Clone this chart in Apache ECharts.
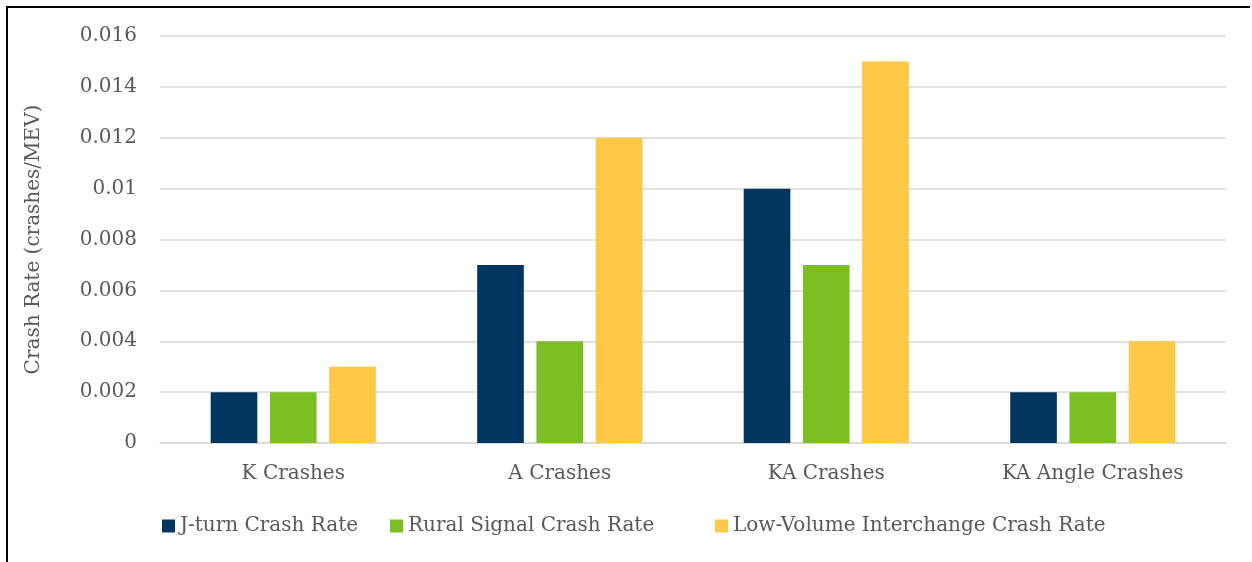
<!DOCTYPE html>
<html>
<head>
<meta charset="utf-8">
<script src="https://cdn.jsdelivr.net/npm/echarts@6/dist/echarts.min.js"></script>
<style>
  html, body { margin: 0; padding: 0; background: #fff; }
  #frame {
    position: absolute; left: 6px; top: 6px; width: 1242px; height: 556px;
    border-left: 2px solid #000; border-top: 2px solid #000;
  }
  #chart { position: absolute; left: 0; top: 0; width: 1252px; height: 562px; }
</style>
</head>
<body>
<div id="frame"></div>
<div id="chart"></div>
<script>
const categories = ['K Crashes', 'A Crashes', 'KA Crashes', 'KA Angle Crashes'];
const seriesNames = ['J-turn Crash Rate', 'Rural Signal Crash Rate', 'Low-Volume Interchange Crash Rate'];
const jturnRate = [0.002, 0.007, 0.01, 0.002];
const ruralSignalRate = [0.002, 0.004, 0.007, 0.002];
const interchangeRate = [0.003, 0.012, 0.015, 0.004];
const colors = ['#003660', '#7BBF22', '#FFC845'];

const font = 'DejaVu Serif';
const textColor = '#595959';

const chart = echarts.init(document.getElementById('chart'));

// one legend per series so each item sits where Excel put it
const legendLefts = [157, 385, 710];
const legends = seriesNames.map((name, i) => ({
  data: [name],
  left: legendLefts[i],
  top: 511,
  itemWidth: 13,
  itemHeight: 13,
  itemGap: 0,
  icon: 'rect',
  textStyle: { fontFamily: font, fontSize: 20, color: textColor },
}));

chart.setOption({
  animation: false,
  color: colors,
  legend: legends,
  grid: { left: 160, right: 26, top: 36, bottom: 119 },
  xAxis: {
    type: 'category',
    data: categories,
    axisLine: { lineStyle: { color: '#d9d9d9', width: 1.5 } },
    axisTick: { show: false },
    axisLabel: { fontFamily: font, fontSize: 20, color: textColor, margin: 21 },
  },
  yAxis: {
    type: 'value',
    min: 0,
    max: 0.016,
    interval: 0.002,
    name: 'Crash Rate (crashes/MEV)',
    nameLocation: 'middle',
    nameGap: 116,
    nameTextStyle: { fontFamily: font, fontSize: 20, color: textColor },
    axisLine: { show: false },
    axisTick: { show: false },
    axisLabel: {
      fontFamily: font, fontSize: 20, color: textColor, margin: 23,
      formatter: (v) => String(parseFloat(v.toFixed(3))),
    },
    splitLine: { lineStyle: { color: '#d9d9d9', width: 1.5 } },
  },
  series: [jturnRate, ruralSignalRate, interchangeRate].map((data, i) => ({
    name: seriesNames[i],
    type: 'bar',
    data: data,
    barWidth: '17.5%',
    barGap: '27%',
  })),
});
</script>
</body>
</html>
